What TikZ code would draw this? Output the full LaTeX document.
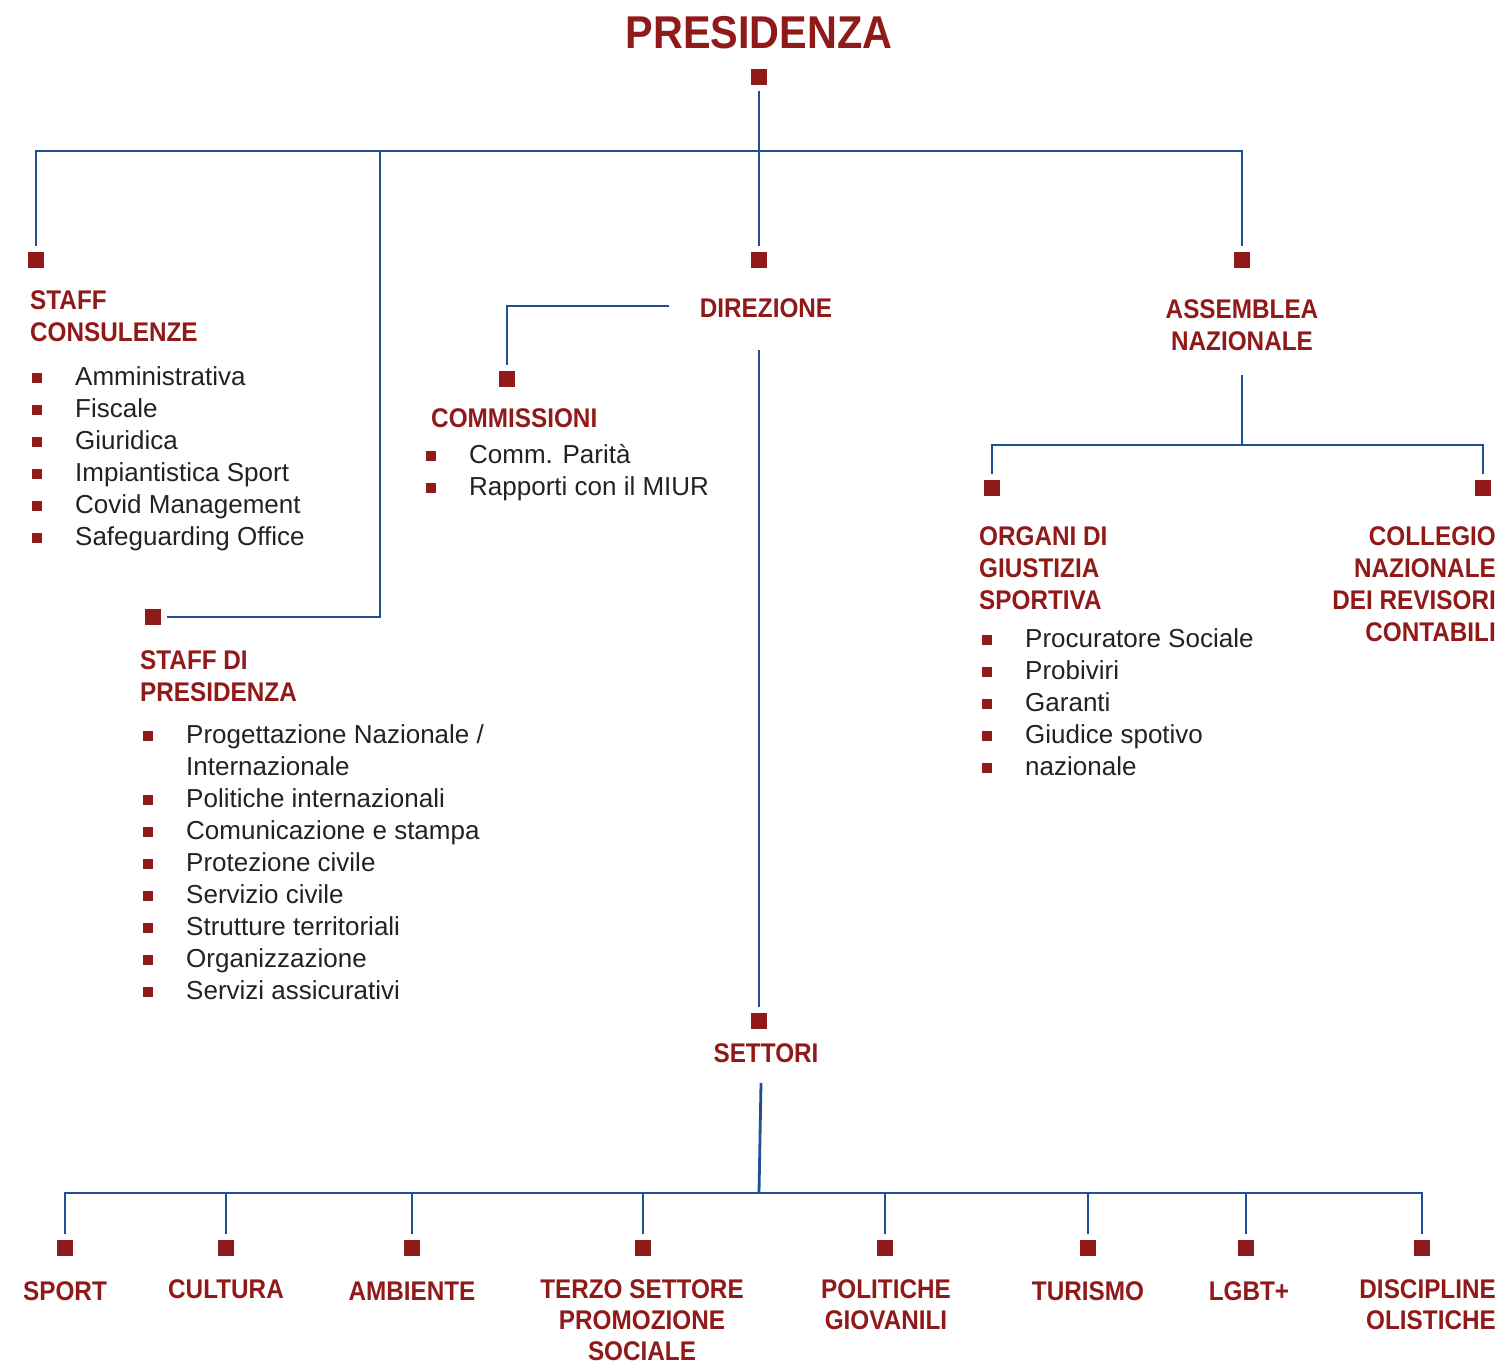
\documentclass[tikz,border=0pt]{standalone}
\usepackage{fontspec}
\setmainfont{Liberation Sans}
\newfontfamily\hfont[FakeStretch=0.9]{Liberation Sans}
\definecolor{ored}{HTML}{901A1A}
\definecolor{oblue}{HTML}{1F4F95}
\definecolor{otext}{HTML}{222222}
\newcommand{\bul}{\textcolor{ored}{\rule[2pt]{10pt}{10pt}}}
\newcommand{\itm}[1]{\makebox[43pt][l]{\bul}#1}
\newcommand{\itc}[1]{\makebox[43pt][l]{}#1}
\begin{document}
\begin{tikzpicture}[x=1pt,y=-1pt,
  sq/.style={fill=ored, minimum size=16pt, inner sep=0pt, outer sep=6pt},
  conn/.style={draw=oblue, line width=2.8pt},
  head/.style={text=ored, font=\hfont\bfseries\fontsize{27}{32}\selectfont, inner sep=0pt},
  bottomlab/.style={text=ored, font=\hfont\bfseries\fontsize{27}{31}\selectfont, inner sep=0pt},
  listbox/.style={text=otext, font=\fontsize{26}{32}\selectfont, inner sep=0pt, align=left, anchor=base west}]
\useasboundingbox (0,0) rectangle (1501,1364);

% titles
\node[head, anchor=base] (presT) at (759,49) {\fontsize{46}{50}\selectfont PRESIDENZA};
\node[sq] (sqP) at (759,77) {};

% first level squares
\node[sq] (sqSC) at (36,260) {};
\node[sq] (sqDir) at (759,260) {};
\node[sq] (sqAN) at (1242,260) {};
\node[sq] (sqSP) at (153,617) {};
\node[sq] (sqCom) at (507,379) {};
\node[sq] (sqSet) at (759,1021) {};
\node[sq] (sqOG) at (992,488) {};
\node[sq] (sqCol) at (1483,488) {};

% hubs
\coordinate (hubTop) at (759,151);
\coordinate (hubL) at (380,151);
\coordinate (dirL) at (669,306);
\coordinate (dirS) at (759,350);
\coordinate (anS) at (1242,375);
\coordinate (hubA) at (1242,445);
\coordinate (setS) at (761,1083);
\coordinate (hubB) at (759,1193);

% headings (base anchor = baseline of last line)
\node[head, anchor=base west, align=left] (tSC) at (30,341) {STAFF\\CONSULENZE};
\node[head, anchor=base] (tDir) at (766,317) {DIREZIONE};
\node[head, anchor=base, align=center] (tAN) at (1242,350) {ASSEMBLEA\\NAZIONALE};
\node[head, anchor=base west] (tCom) at (431,427) {COMMISSIONI};
\node[head, anchor=base west, align=left] (tSP) at (140,701) {STAFF DI\\PRESIDENZA};
\node[head, anchor=base west, align=left] (tOG) at (979,609) {ORGANI DI\\GIUSTIZIA\\SPORTIVA};
\node[head, anchor=base east, align=right] (tCol) at (1496,641) {COLLEGIO\\NAZIONALE\\DEI REVISORI\\CONTABILI};
\node[head, anchor=base] (tSet) at (766,1062) {SETTORI};

% lists
\node[listbox] (lSC) at (32,545) {\itm{Amministrativa}\\\itm{Fiscale}\\\itm{Giuridica}\\\itm{Impiantistica Sport}\\\itm{Covid Management}\\\itm{Safeguarding Office}};
\node[listbox] (lCom) at (426,495) {\itm{Comm. Parità}\\\itm{Rapporti con il MIUR}};
\node[listbox] (lOG) at (982,775) {\itm{Procuratore Sociale}\\\itm{Probiviri}\\\itm{Garanti}\\\itm{Giudice spotivo}\\\itm{nazionale}};
\node[listbox] (lSP) at (143,999) {\itm{Progettazione Nazionale /}\\\itc{Internazionale}\\\itm{Politiche internazionali}\\\itm{Comunicazione e stampa}\\\itm{Protezione civile}\\\itm{Servizio civile}\\\itm{Strutture territoriali}\\\itm{Organizzazione}\\\itm{Servizi assicurativi}};

% bottom squares
\node[sq] (b1) at (65,1248) {};
\node[sq] (b2) at (226,1248) {};
\node[sq] (b3) at (412,1248) {};
\node[sq] (b4) at (643,1248) {};
\node[sq] (b5) at (885,1248) {};
\node[sq] (b6) at (1088,1248) {};
\node[sq] (b7) at (1246,1248) {};
\node[sq] (b8) at (1422,1248) {};

% bottom labels
\node[bottomlab, anchor=base] (lb1) at (65,1300) {SPORT};
\node[bottomlab, anchor=base] (lb2) at (226,1298) {CULTURA};
\node[bottomlab, anchor=base] (lb3) at (412,1300) {AMBIENTE};
\node[bottomlab, anchor=base, align=center] (lb4) at (642,1360) {TERZO SETTORE\\PROMOZIONE\\SOCIALE};
\node[bottomlab, anchor=base, align=center] (lb5) at (886,1329) {POLITICHE\\GIOVANILI};
\node[bottomlab, anchor=base] (lb6) at (1088,1300) {TURISMO};
\node[bottomlab, anchor=base] (lb7) at (1249,1300) {LGBT+};
\node[bottomlab, anchor=base east, align=right] (lb8) at (1496,1329) {DISCIPLINE\\OLISTICHE};

% connectors
\draw[conn] (sqP.south) -- (sqDir.north);
\draw[conn] (sqSC.north) |- (hubTop) -| (sqAN.north);
\draw[conn] (hubL) |- (sqSP.east);
\draw[conn] (dirL) -| (sqCom.north);
\draw[conn] (dirS) -- (sqSet.north);
\draw[conn] (anS) -- (hubA);
\draw[conn] (sqOG.north) |- (hubA) -| (sqCol.north);
\draw[conn] (setS) -- (hubB);
\draw[conn] (b1.north) |- (hubB) -| (b8.north);
\foreach \b in {b2,b3,b4,b5,b6,b7}
  \draw[conn] (\b.north) -- (\b.north |- hubB);
\end{tikzpicture}
\end{document}
